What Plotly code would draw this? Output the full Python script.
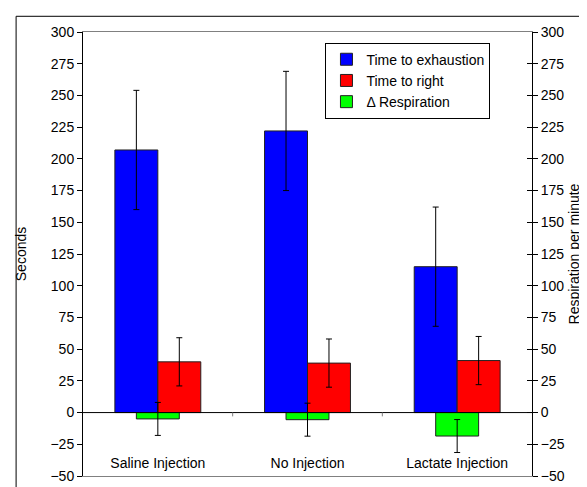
import plotly.graph_objects as go

categories = ["Saline Injection", "No Injection", "Lactate Injection"]
exhaustion = [207, 222, 115]
exhaustion_err = [47, 47, 47]
righting = [40, 39, 41]
righting_err = [19, 19, 19]
respiration = [-5, -5.6, -18.5]
respiration_err = [13, 13, 13]
tick_vals = [-50, -25, 0, 25, 50, 75, 100, 125, 150, 175, 200, 225, 250, 275, 300]

xpos = list(range(len(categories)))
W = 0.287
FONT = "Liberation Sans, Arial, sans-serif"
FS = 14

fig = go.Figure()
fig.add_trace(go.Bar(
    x=xpos, y=exhaustion, name="Time to exhaustion", width=W, offset=-W,
    marker=dict(color="#0000FF", line=dict(color="#222222", width=1)),
    error_y=dict(type="data", array=exhaustion_err, color="black", thickness=1, width=3),
    yaxis="y"))
fig.add_trace(go.Bar(
    x=xpos, y=righting, name="Time to right", width=W, offset=0,
    marker=dict(color="#FF0000", line=dict(color="#222222", width=1)),
    error_y=dict(type="data", array=righting_err, color="black", thickness=1, width=3),
    yaxis="y"))
fig.add_trace(go.Bar(
    x=xpos, y=respiration, name="Δ Respiration", width=W, offset=-W / 2,
    marker=dict(color="#00FF00", line=dict(color="#222222", width=1)),
    error_y=dict(type="data", array=respiration_err, color="black", thickness=1, width=3),
    yaxis="y2"))
# invisible trace to carry the inner-tick axis
fig.add_trace(go.Scatter(x=[0], y=[0], yaxis="y3", mode="markers",
                         marker=dict(opacity=0), showlegend=False, hoverinfo="skip"))

yax = dict(range=[-50, 300], tickvals=tick_vals, showgrid=False, zeroline=False,
           showline=True, linecolor="black", linewidth=1, ticks="outside",
           ticklen=5, tickcolor="black",
           tickfont=dict(family=FONT, size=FS, color="black"))

fig.update_layout(
    width=587, height=487,
    margin=dict(l=75, r=63, t=24, b=11),
    paper_bgcolor="white", plot_bgcolor="white",
    barmode="overlay",
    font=dict(family=FONT, size=FS, color="black"),
    xaxis=dict(range=[-0.5, 2.5], tickvals=xpos, ticktext=categories,
               showgrid=False, zeroline=False, showline=True, mirror=True,
               linecolor="#808080", linewidth=1, ticks="",
               ticklabelstandoff=-26,
               tickfont=dict(family=FONT, size=FS, color="black")),
    yaxis=dict(**yax, title=dict(text="Seconds", font=dict(family=FONT, size=FS), standoff=20)),
    yaxis2=dict(**yax, overlaying="y", side="right",
                title=dict(text="Respiration per minute", font=dict(family=FONT, size=FS), standoff=5)),
    yaxis3=dict(range=[-50, 300], tickvals=tick_vals, overlaying="y", side="right",
                showgrid=False, zeroline=False, showline=False, ticks="inside",
                ticklen=5, tickcolor="black", showticklabels=False),
    legend=dict(x=0.54, y=0.976, xanchor="left", yanchor="top",
                bordercolor="black", borderwidth=1, bgcolor="white",
                font=dict(family=FONT, size=FS), tracegroupgap=0, itemwidth=30),
    shapes=[
        dict(type="line", xref="paper", yref="y", x0=0, x1=1, y0=0, y1=0,
             line=dict(color="black", width=1)),
        dict(type="line", xref="x", yref="y", x0=0.5, x1=0.5, y0=0, y1=-3,
             line=dict(color="gray", width=1)),
        dict(type="line", xref="x", yref="y", x0=1.5, x1=1.5, y0=0, y1=-3,
             line=dict(color="gray", width=1)),
        dict(type="rect", xref="paper", yref="paper", x0=-0.149, x1=1.3, y0=-0.2, y1=1.0354,
             line=dict(color="black", width=1), fillcolor="rgba(0,0,0,0)", layer="below"),
    ],
)

fig.write_html("out.html")
